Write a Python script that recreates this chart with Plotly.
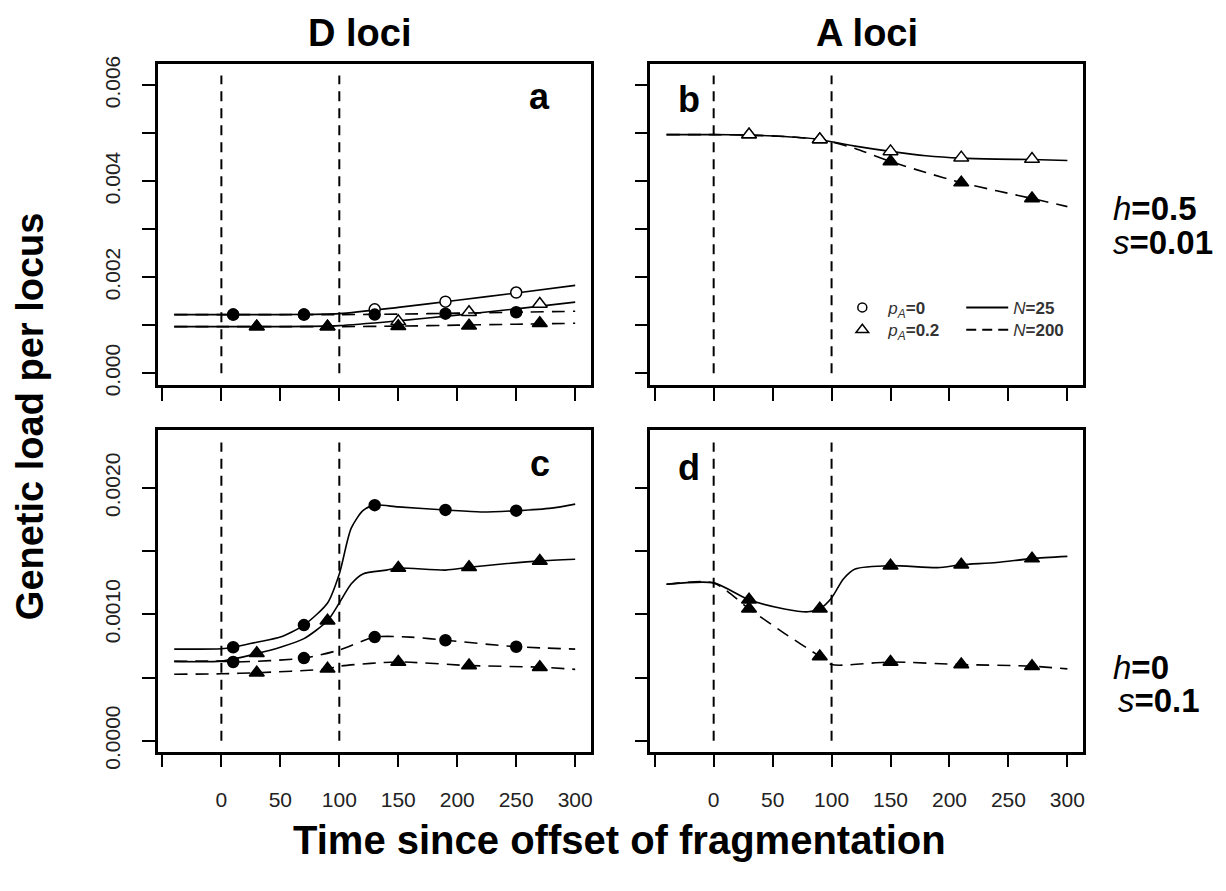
import plotly.graph_objects as go

# ---------------- data ----------------
EVENT_TIMES = [0, 100]
X_TICKS = [0, 50, 100, 150, 200, 250, 300]
X_TICK_LABELS = ["0", "50", "100", "150", "200", "250", "300"]
X_MINOR_TICKS = [-50]
TOP_Y_TICKS = [0, 0.002, 0.004, 0.006]
TOP_Y_LABELS = ["0.000", "0.002", "0.004", "0.006"]
TOP_Y_MINOR = [0.001, 0.003, 0.005]
BOT_Y_TICKS = [0, 0.0010, 0.0020]
BOT_Y_LABELS = ["0.0000", "0.0010", "0.0020"]
BOT_Y_MINOR = [0.0005, 0.0015]
TOP_Y_MAX = 0.0062
BOT_Y_MAX = 0.00236

T_CIRCLE = [10, 70, 130, 190, 250]
T_TRIANGLE = [30, 90, 150, 210, 270]

# panel a : D loci, h=0.5, s=0.01
a_t = [-40, 0, 50, 100, 150, 200, 250, 300]
a_n25_p0 = [0.00122, 0.00122, 0.00122, 0.00124, 0.00137, 0.00152, 0.00167, 0.00183]
a_n25_p02 = [0.00097, 0.00097, 0.00097, 0.00099, 0.00109, 0.00121, 0.00134, 0.00148]
a_n200_p0 = [0.00122, 0.00122, 0.00122, 0.00122, 0.00123, 0.00125, 0.00127, 0.00129]
a_n200_p02 = [0.00097, 0.00097, 0.00097, 0.00097, 0.00098, 0.00100, 0.00102, 0.00104]
a_n25_p0_sim = [0.00122, 0.00122, 0.00133, 0.00149, 0.00168]
a_n25_p02_sim = [0.00097, 0.00097, 0.00108, 0.00127, 0.00144]
a_n200_p0_sim = [0.00122, 0.00122, 0.00122, 0.00124, 0.00127]
a_n200_p02_sim = [0.00097, 0.00097, 0.00098, 0.00099, 0.00104]

# panel b : A loci, h=0.5, s=0.01
b_t = [-40, 0, 30, 60, 90, 100, 120, 150, 180, 210, 240, 270, 300]
b_n25 = [0.00497, 0.00497, 0.00496, 0.00493, 0.00487, 0.00482, 0.00473, 0.00462,
         0.00453, 0.00448, 0.00446, 0.00445, 0.00443]
b_n200 = [0.00497, 0.00497, 0.00496, 0.00493, 0.00487, 0.00482, 0.00468, 0.00441,
          0.00418, 0.00397, 0.00380, 0.00364, 0.00347]
b_n25_sim = [0.00497, 0.00487, 0.00462, 0.00449, 0.00446]
b_n200_sim = [0.00497, 0.00487, 0.00441, 0.00397, 0.00364]

# panel c : D loci, h=0, s=0.1
c_n25_p0_t = [-40, 0, 10, 30, 50, 70, 90, 100, 110, 120, 130, 150, 190, 220, 250, 280, 300]
c_n25_p0 = [0.000725, 0.000728, 0.00074, 0.00078, 0.00082, 0.000915, 0.00109, 0.00132,
            0.00168, 0.00182, 0.001864, 0.00185, 0.001826, 0.00181, 0.00182, 0.00184, 0.001872]
c_n25_p02_t = [-40, 0, 30, 50, 70, 90, 100, 110, 120, 140, 150, 190, 210, 240, 270, 300]
c_n25_p02 = [0.000628, 0.00063, 0.00069, 0.00074, 0.000808, 0.000949, 0.00109, 0.00124,
             0.00132, 0.00135, 0.001367, 0.00135, 0.001372, 0.0014, 0.001423, 0.001436]
c_n200_p0_t = [-40, 0, 10, 70, 100, 130, 160, 190, 250, 300]
c_n200_p0 = [0.000628, 0.00063, 0.000623, 0.000654, 0.000718, 0.00082, 0.00082,
             0.000795, 0.000744, 0.000725]
c_n200_p02_t = [-40, 0, 30, 90, 100, 150, 210, 270, 300]
c_n200_p02 = [0.000526, 0.00053, 0.000538, 0.000569, 0.00059, 0.000623, 0.000595,
              0.000582, 0.000565]
c_n25_p0_sim = [0.00074, 0.000915, 0.001864, 0.001826, 0.00182]
c_n25_p02_sim = [0.000692, 0.000949, 0.001367, 0.001372, 0.001423]
c_n200_p0_sim = [0.000623, 0.000654, 0.00082, 0.000795, 0.000744]
c_n200_p02_sim = [0.000538, 0.000569, 0.000623, 0.000595, 0.000582]

# panel d : A loci, h=0, s=0.1
d_n25_t = [-40, 0, 30, 60, 80, 90, 100, 110, 120, 150, 190, 210, 240, 270, 300]
d_n25 = [0.001238, 0.001249, 0.001115, 0.001043, 0.00102, 0.001044, 0.00113, 0.00128,
         0.001359, 0.001385, 0.00137, 0.001392, 0.00141, 0.001441, 0.001459]
d_n200_t = [-40, 0, 30, 60, 90, 100, 150, 210, 270, 300]
d_n200 = [0.001238, 0.001249, 0.001044, 0.00085, 0.000667, 0.000603, 0.000623,
          0.000603, 0.00059, 0.000569]
d_n25_sim = [0.001115, 0.001044, 0.001385, 0.001392, 0.001441]
d_n200_sim = [0.001044, 0.000667, 0.000623, 0.000603, 0.00059]

# ---------------- layout helpers ----------------
W, H = 1226, 891
FONT = "Liberation Sans, Arial, sans-serif"


def px(x):
    return x / W


def py(y):
    return 1 - y / H


PANELS = {
    "a": dict(xa="x", ya="y", xd=[158.3, 591.7], yd=[58.3, 389], top=True, left=True),
    "b": dict(xa="x2", ya="y2", xd=[651, 1084.3], yd=[58.3, 389], top=True, left=False),
    "c": dict(xa="x3", ya="y3", xd=[158.3, 591.7], yd=[435, 766], top=False, left=True),
    "d": dict(xa="x4", ya="y4", xd=[651, 1084.3], yd=[435, 766], top=False, left=False),
}

fig = go.Figure()

SERIES = [
    # panel, curve t, curve y, sim t, sim y, dashed, symbol, filled
    ("a", a_t, a_n25_p0, T_CIRCLE, a_n25_p0_sim, False, "circle", False),
    ("a", a_t, a_n25_p02, T_TRIANGLE, a_n25_p02_sim, False, "triangle-up", False),
    ("a", a_t, a_n200_p0, T_CIRCLE, a_n200_p0_sim, True, "circle", True),
    ("a", a_t, a_n200_p02, T_TRIANGLE, a_n200_p02_sim, True, "triangle-up", True),
    ("b", b_t, b_n200, T_TRIANGLE, b_n200_sim, True, "triangle-up", True),
    ("b", b_t, b_n25, T_TRIANGLE, b_n25_sim, False, "triangle-up", False),
    ("c", c_n25_p0_t, c_n25_p0, T_CIRCLE, c_n25_p0_sim, False, "circle", True),
    ("c", c_n25_p02_t, c_n25_p02, T_TRIANGLE, c_n25_p02_sim, False, "triangle-up", True),
    ("c", c_n200_p0_t, c_n200_p0, T_CIRCLE, c_n200_p0_sim, True, "circle", True),
    ("c", c_n200_p02_t, c_n200_p02, T_TRIANGLE, c_n200_p02_sim, True, "triangle-up", True),
    ("d", d_n200_t, d_n200, T_TRIANGLE, d_n200_sim, True, "triangle-up", True),
    ("d", d_n25_t, d_n25, T_TRIANGLE, d_n25_sim, False, "triangle-up", True),
]

for pan, ct, cy, st, sy, dashed, sym, filled in SERIES:
    p = PANELS[pan]
    fig.add_trace(go.Scatter(
        x=ct, y=cy, mode="lines", xaxis=p["xa"], yaxis=p["ya"],
        line=dict(color="black", width=1.6, shape="spline", smoothing=0.7,
                  dash="13px,8px" if dashed else "solid"),
        showlegend=False, hoverinfo="skip"))
    fig.add_trace(go.Scatter(
        x=st, y=sy, mode="markers", xaxis=p["xa"], yaxis=p["ya"],
        marker=dict(symbol=sym, size=11 if sym == "circle" else 13,
                    color="black" if filled else "white",
                    line=dict(color="black", width=1.5)),
        showlegend=False, hoverinfo="skip"))

# legend entries (one legend per entry for exact placement)
LEG_FONT = dict(size=17, color="#333", family=FONT)
legend_items = [
    ("legend", dict(mode="markers", marker=dict(symbol="circle-open", size=9, color="black",
                                                 line=dict(width=1.5))),
     "<i>p</i><sub><i>A</i></sub><b>=0</b>", 837, 291),
    ("legend2", dict(mode="markers", marker=dict(symbol="triangle-up-open", size=11,
                                                  color="black", line=dict(width=1.5))),
     "<i>p</i><sub><i>A</i></sub><b>=0.2</b>", 837, 314),
    ("legend3", dict(mode="lines", line=dict(color="black", width=2)),
     "<i>N</i><b>=25</b>", 962, 291),
    ("legend4", dict(mode="lines", line=dict(color="black", width=2, dash="10px,6px")),
     "<i>N</i><b>=200</b>", 962, 314),
]

layout = dict(
    width=W, height=H, autosize=False,
    margin=dict(l=0, r=0, t=0, b=0),
    paper_bgcolor="white", plot_bgcolor="white",
    font=dict(family=FONT, color="black"),
)

for key, style, name, lx, ly in legend_items:
    fig.add_trace(go.Scatter(x=[None], y=[None], xaxis="x2", yaxis="y2",
                             name=name, legend=key, hoverinfo="skip", **style))
    layout[key] = dict(x=px(lx), xanchor="left", y=py(ly), yanchor="top",
                       bgcolor="rgba(0,0,0,0)", font=LEG_FONT, itemwidth=42)

tick_style = dict(ticks="outside", ticklen=13, tickwidth=2, tickcolor="black")
axis_common = dict(showline=True, mirror=True, linecolor="black", linewidth=2.5,
                   showgrid=False, zeroline=False,
                   tickfont=dict(size=21, family=FONT, color="#222"), **tick_style)

shapes = []
for name, p in PANELS.items():
    xkey = "xaxis" + p["xa"][1:]
    ykey = "yaxis" + p["ya"][1:]
    layout[xkey] = dict(
        axis_common, domain=[px(p["xd"][0]), px(p["xd"][1])], anchor=p["ya"],
        range=[-53.6, 313.6], tickmode="array", tickvals=X_TICKS,
        ticktext=X_TICK_LABELS, showticklabels=not p["top"],
        minor=dict(tickvals=X_MINOR_TICKS, showgrid=False, **tick_style),
        ticklabelstandoff=15)
    if p["top"]:
        yt, yl, ym, yr = TOP_Y_TICKS, TOP_Y_LABELS, TOP_Y_MINOR, [-0.000248, 0.006448]
        ytop = TOP_Y_MAX
    else:
        yt, yl, ym, yr = BOT_Y_TICKS, BOT_Y_LABELS, BOT_Y_MINOR, [-0.000085, 0.00246]
        ytop = BOT_Y_MAX
    layout[ykey] = dict(
        axis_common, domain=[py(p["yd"][1]), py(p["yd"][0])], anchor=p["xa"],
        range=yr, tickmode="array", tickvals=yt, ticktext=yl,
        showticklabels=p["left"],
        minor=dict(tickvals=ym, showgrid=False, **tick_style),
        tickangle=-90, ticklabelstandoff=14)
    for t in EVENT_TIMES:
        shapes.append(dict(type="line", xref=p["xa"], yref=p["ya"], x0=t, x1=t,
                           y0=0, y1=ytop, layer="below",
                           line=dict(color="black", width=2, dash="10px,7px")))
layout["shapes"] = shapes


def ann(text, x, y, size, bold=True, xanchor="center", angle=0):
    return dict(text=f"<b>{text}</b>" if bold else text, x=px(x), y=py(y),
                xref="paper", yref="paper", showarrow=False, xanchor=xanchor,
                yanchor="middle", textangle=angle,
                font=dict(size=size, family=FONT, color="black"))


annotations = [
    ann("D loci", 360, 27, 38),
    ann("A loci", 868, 27, 38),
    ann("Genetic load per locus", 30, 421, 38, angle=-90),
    ann("Time since offset of fragmentation", 620, 857, 40),
    ann("a", 540, 92, 36),
    ann("b", 690, 95, 36),
    ann("c", 540, 470, 36),
    ann("d", 690, 474, 36),
    ann("<i>h</i><b>=0.5</b>", 1112, 207, 33, bold=False, xanchor="left"),
    ann("<i>s</i><b>=0.01</b>", 1112, 242, 33, bold=False, xanchor="left"),
    ann("<i>h</i><b>=0</b>", 1112, 680, 33, bold=False, xanchor="left"),
    ann("<i>s</i><b>=0.1</b>", 1117, 714, 33, bold=False, xanchor="left"),
]
layout["annotations"] = annotations

fig.update_layout(**layout)
fig.write_html("out.html")
